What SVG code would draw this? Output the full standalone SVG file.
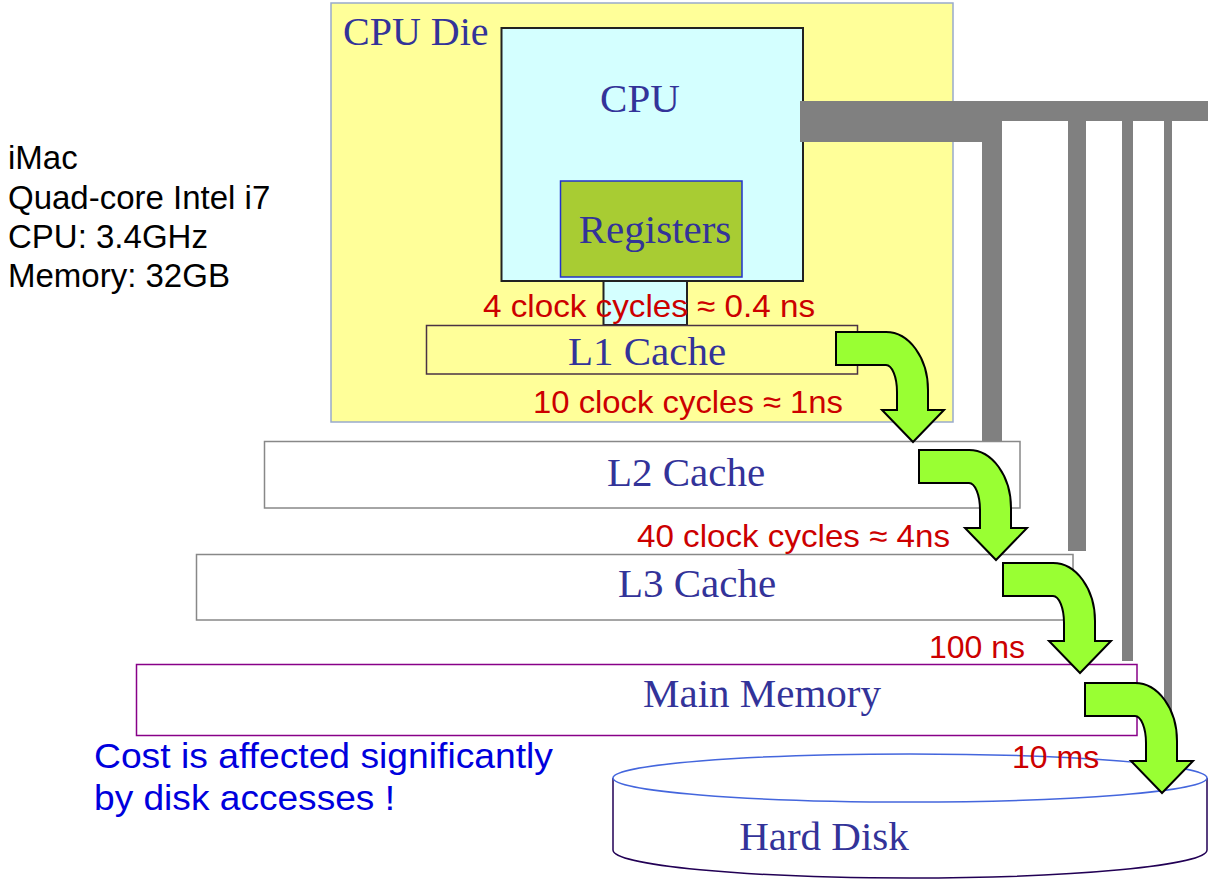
<svg xmlns="http://www.w3.org/2000/svg" width="1210" height="884" viewBox="0 0 1210 884">
<defs>
<style>
.lbl{font-family:"Liberation Serif","Times New Roman",serif;font-size:41px;fill:#333399}
.red{font-family:"Liberation Sans",Arial,sans-serif;font-size:32px;fill:#cc0000}
.info{font-family:"Liberation Sans",Arial,sans-serif;font-size:33px;fill:#000}
.note{font-family:"Liberation Sans",Arial,sans-serif;font-size:35px;fill:#0000dd}
.box{fill:#fff}
.bus{fill:#808080}
.arrow{fill:#99ff33;stroke:#000;stroke-width:2;stroke-linejoin:miter}
</style>
<path id="curved" d="M0,0 H50 A42,58 0 0 1 92,58 V78 H108 L77,110 L46,78 H61 V60 A11,27 0 0 0 50,33 H0 Z"/>
</defs>
<rect width="1210" height="884" fill="#fff"/>

<g id="info">
<text class="info" x="8" y="169">iMac</text>
<text class="info" x="8" y="209">Quad-core Intel i7</text>
<text class="info" x="8" y="248">CPU: 3.4GHz</text>
<text class="info" x="8" y="287">Memory: 32GB</text>
</g>

<g id="cpu-die">
<rect x="331" y="3" width="622" height="419" fill="#ffff99" stroke="#99aacc" stroke-width="1.5"/>
<text class="lbl" x="343" y="45" style="font-size:40px">CPU Die</text>
</g>

<g id="cpu">
<rect x="501.5" y="28" width="301.5" height="253" fill="#d4ffff" stroke="#222" stroke-width="2"/>
<text class="lbl" x="640" y="112" text-anchor="middle">CPU</text>
</g>

<g id="registers">
<rect x="560.5" y="181" width="181.5" height="96" fill="#a8cc33" stroke="#2233cc" stroke-width="1.5"/>
<text class="lbl" x="655" y="243" text-anchor="middle">Registers</text>
</g>

<g id="cpu-l1-link">
<rect x="603.5" y="281" width="83.5" height="44" fill="#d4ffff" stroke="#222" stroke-width="2"/>
</g>

<g id="l1">
<rect x="426.5" y="325.5" width="431" height="48.5" fill="#ffff99" stroke="#4a3344" stroke-width="1.5"/>
<text class="lbl" x="647" y="365" text-anchor="middle">L1 Cache</text>
</g>

<g id="bus">
<path class="bus" d="M800,101 H1208 V121 H1002 V441 H982 V142 H800 Z"/>
<rect class="bus" x="1068" y="121" width="18" height="430"/>
<rect class="bus" x="1122" y="121" width="11" height="540"/>
<rect class="bus" x="1164" y="121" width="8" height="644"/>
</g>

<g id="l2">
<rect class="box" x="264.5" y="441.5" width="755.5" height="66.5" stroke="#888" stroke-width="1.5"/>
<text class="lbl" x="686" y="486" text-anchor="middle">L2 Cache</text>
</g>

<g id="l3">
<rect class="box" x="196.5" y="554.5" width="876.5" height="65.5" stroke="#888" stroke-width="1.5"/>
<text class="lbl" x="697" y="597" text-anchor="middle">L3 Cache</text>
</g>

<g id="main-memory">
<rect class="box" x="136.5" y="664.5" width="1000.5" height="71" stroke="#880088" stroke-width="1.5"/>
<text class="lbl" x="762" y="707" text-anchor="middle">Main Memory</text>
</g>

<g id="hard-disk">
<path d="M613,778 V850 A297,28 0 0 0 1207,850 V778" fill="#fff" stroke="#220055" stroke-width="1.5"/>
<ellipse cx="910" cy="778" rx="297" ry="24" fill="#fff" stroke="#4466dd" stroke-width="1.5"/>
<text class="lbl" x="824" y="850" text-anchor="middle">Hard Disk</text>
</g>

<g id="connectors">
<use href="#curved" class="arrow" transform="translate(836,332)"/>
<use href="#curved" class="arrow" transform="translate(919,450)"/>
<use href="#curved" class="arrow" transform="translate(1003,563)"/>
<use href="#curved" class="arrow" transform="translate(1085,683)"/>
</g>

<g id="latencies">
<text class="red" x="483" y="317" textLength="332" lengthAdjust="spacingAndGlyphs">4 clock cycles ≈ 0.4 ns</text>
<text class="red" x="533" y="413" textLength="310" lengthAdjust="spacingAndGlyphs">10 clock cycles ≈ 1ns</text>
<text class="red" x="637" y="547" textLength="313" lengthAdjust="spacingAndGlyphs">40 clock cycles ≈ 4ns</text>
<text class="red" x="929" y="658">100 ns</text>
<text class="red" x="1012" y="768">10 ms</text>
</g>

<g id="note">
<text class="note" x="94" y="768" textLength="459" lengthAdjust="spacingAndGlyphs">Cost is affected significantly</text>
<text class="note" x="94" y="810" textLength="301" lengthAdjust="spacingAndGlyphs">by disk accesses !</text>
</g>
</svg>
